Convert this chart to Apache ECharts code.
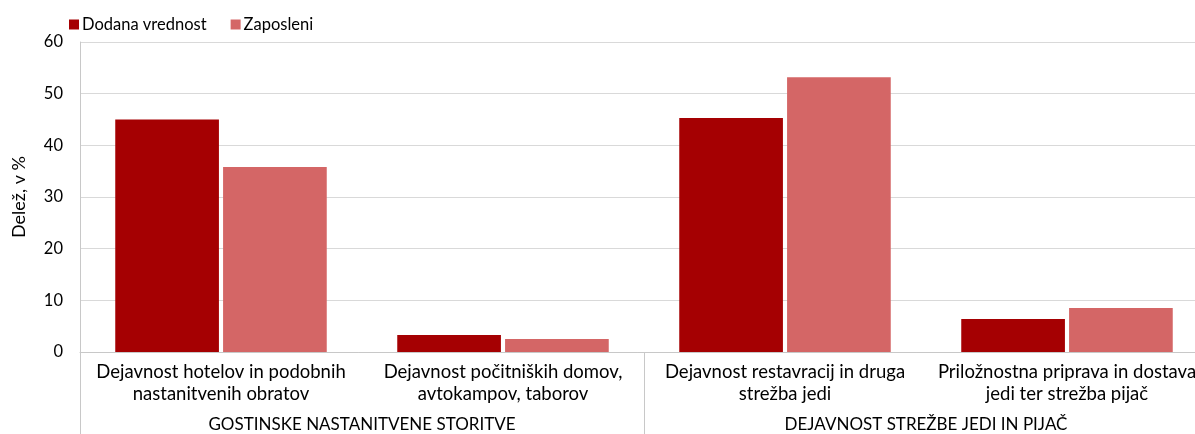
<!DOCTYPE html>
<html>
<head>
<meta charset="utf-8">
<script src="https://cdn.jsdelivr.net/npm/echarts@6/dist/echarts.min.js"></script>
<style>
  html, body { margin: 0; padding: 0; background: #fff; }
  #chart { width: 1195px; height: 434px; }
</style>
</head>
<body>
<div id="chart"></div>
<script>
const categories = [
  "Dejavnost hotelov in podobnih\nnastanitvenih obratov",
  "Dejavnost počitniških domov,\navtokampov, taborov",
  "Dejavnost restavracij in druga\nstrežba jedi",
  "Priložnostna priprava in dostava\njedi ter strežba pijač"
];
const groups = ["GOSTINSKE NASTANITVENE STORITVE", "DEJAVNOST STREŽBE JEDI IN PIJAČ"];
const dodanaVrednost = [45.0, 3.3, 45.3, 6.4];
const zaposleni = [35.8, 2.5, 53.2, 8.5];

const font = "Lato";
const chart = echarts.init(document.getElementById("chart"));

chart.setOption({
  animation: false,
  textStyle: { fontFamily: font },
  // plot runs a little past the right edge, like the cropped original
  grid: { left: 80, top: 42, right: -13, bottom: 82, outerBoundsMode: "none", containLabel: false },
  legend: {
    left: 64,
    top: 11,
    itemWidth: 10,
    itemHeight: 10,
    itemGap: 24,
    icon: "rect",
    textStyle: { fontFamily: font, fontSize: 16.5, color: "#000", padding: [0, 0, 0, -2] },
    data: ["Dodana vrednost", "Zaposleni"]
  },
  xAxis: [
    {
      type: "category",
      data: categories,
      axisLine: { lineStyle: { color: "#c8c8c8", width: 1 } },
      axisTick: { show: false },
      axisLabel: {
        interval: 0,
        color: "#000",
        fontFamily: font,
        fontSize: 18.5,
        lineHeight: 22,
        margin: 9
      }
    },
    {
      type: "category",
      position: "bottom",
      data: groups,
      axisLine: { show: false },
      axisTick: { show: true, length: 82, lineStyle: { color: "#c8c8c8" } },
      axisLabel: {
        interval: 0,
        color: "#000",
        fontFamily: font,
        fontSize: 17,
        margin: 64
      }
    }
  ],
  yAxis: {
    type: "value",
    min: 0,
    max: 60,
    interval: 10,
    name: "Delež, v %",
    nameLocation: "middle",
    nameGap: 52,
    nameTextStyle: { color: "#000", fontFamily: font, fontSize: 18 },
    axisLine: { show: true, lineStyle: { color: "#c8c8c8" } },
    axisTick: { show: false },
    axisLabel: { color: "#000", fontFamily: font, fontSize: 16.5, margin: 17 },
    splitLine: { lineStyle: { color: "#d9d9d9", width: 1 } }
  },
  series: [
    {
      name: "Dodana vrednost",
      type: "bar",
      data: dodanaVrednost,
      itemStyle: { color: "#a50002" },
      barCategoryGap: "25%",
      barGap: "4%"
    },
    {
      name: "Zaposleni",
      type: "bar",
      data: zaposleni,
      itemStyle: { color: "#d46666" }
    }
  ]
});
</script>
</body>
</html>
